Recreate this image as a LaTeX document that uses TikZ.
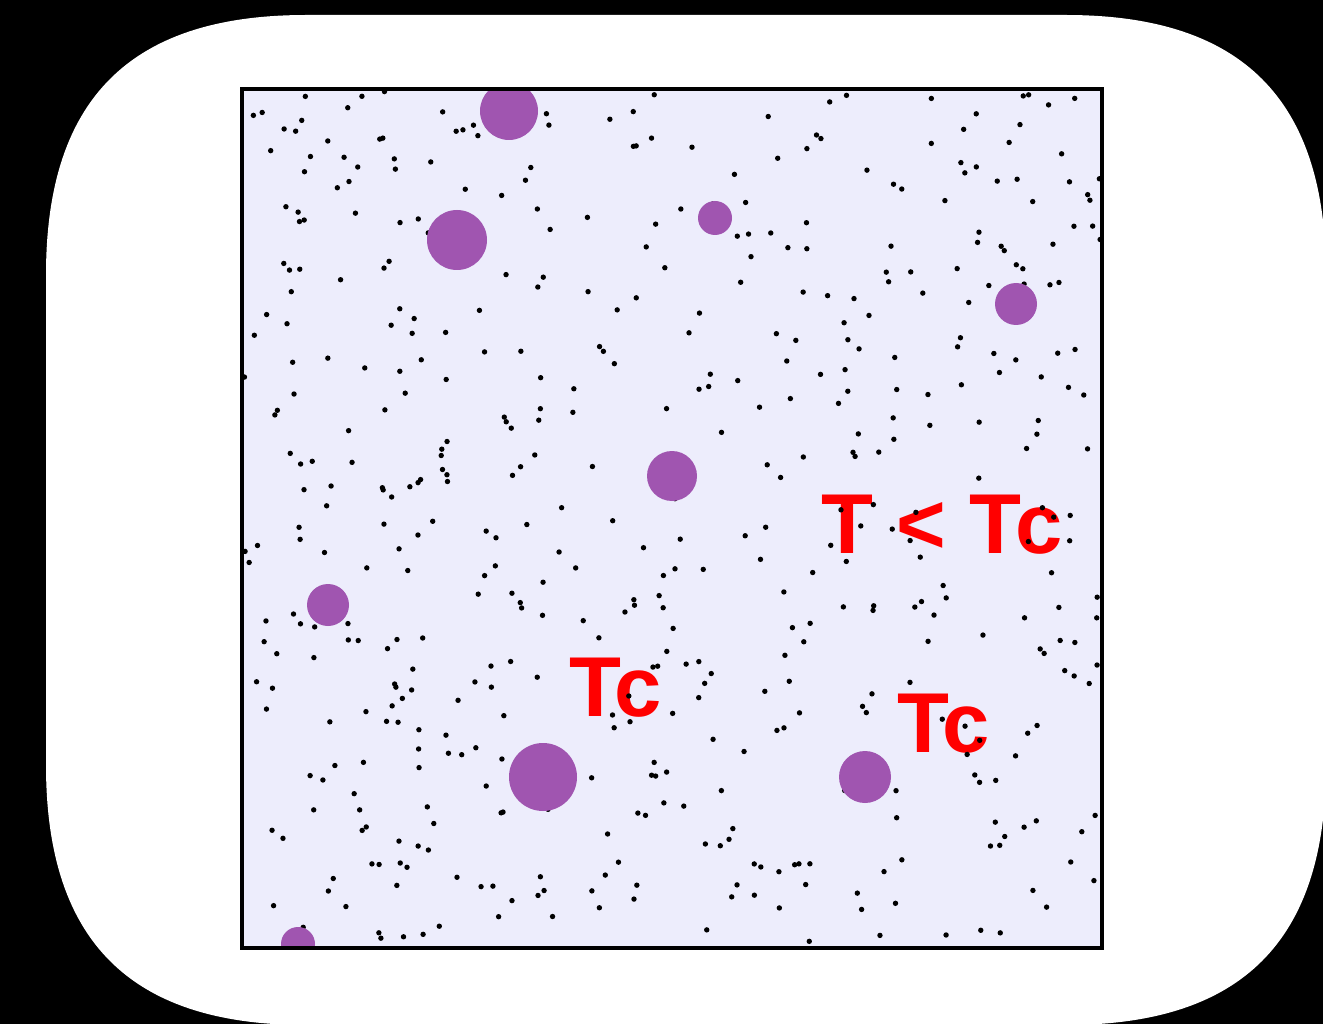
\documentclass[tikz,border=0pt]{standalone}
\usepackage{fontspec}
\setmainfont{Liberation Sans}
\definecolor{panelbg}{RGB}{237,237,252}
\definecolor{blobcol}{RGB}{160,85,176}
\definecolor{lblcol}{RGB}{255,0,0}
\begin{document}
\begin{tikzpicture}[x=1pt,y=-1pt,
  blob/.style={circle,fill=blobcol,inner sep=0pt,minimum size=#1},
  lab/.style={text=lblcol,font=\bfseries\fontsize{85}{85}\selectfont,anchor=base west,inner sep=0pt},
  frame/.style={draw=black,line width=3.8pt}]
\useasboundingbox (0,0) rectangle (1323,1024);
\fill[black] (0,0) rectangle (1323,1024);
% white rounded card
\fill[white] (46,275) .. controls (46,99) and (130,15) .. (306,15)
  -- (1066,15) .. controls (1242,15) and (1326,99) .. (1326,275)
  -- (1326,765) .. controls (1326,941) and (1242,1025) .. (1066,1025)
  -- (306,1025) .. controls (130,1025) and (46,941) .. (46,765) -- cycle;
% panel
\fill[panelbg] (242,89) rectangle (1102,948);
\begin{scope}
\clip (242,89) rectangle (1102,948);
\node[lab] (lt) at (821,553) {T < Tc};
\node[lab] (t1) at (569,716) {Tc};
\node[lab] (t2) at (897,752) {Tc};
\pgfmathsetseed{4242}
\foreach \i in {1,...,520}{
  \pgfmathsetmacro\dx{244+857*rnd}
  \pgfmathsetmacro\dy{91+855*rnd}
  \fill[black] (\dx,\dy) circle (2.7);
}
\node[blob=58pt] (c1) at (509,111) {};
\node[blob=60pt] (c2) at (457,240) {};
\node[blob=34pt] (c3) at (715,218) {};
\node[blob=42pt] (c4) at (1016,304) {};
\node[blob=50pt] (c5) at (672,476) {};
\node[blob=42pt] (c6) at (328,605) {};
\node[blob=68pt] (c7) at (543,777) {};
\node[blob=52pt] (c8) at (865,777) {};
\node[blob=34pt] (c9) at (298,944) {};
\end{scope}
\draw[frame] (242,89) rectangle (1102,948);
\end{tikzpicture}
\end{document}
